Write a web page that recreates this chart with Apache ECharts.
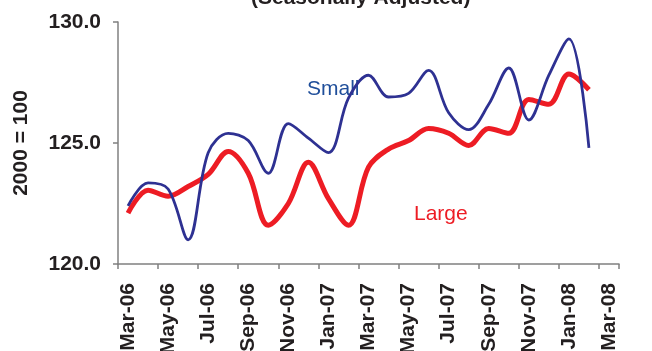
<!DOCTYPE html>
<html>
<head>
<meta charset="utf-8">
<script src="https://cdn.jsdelivr.net/npm/echarts@6/dist/echarts.min.js"></script>
<style>
html,body{margin:0;padding:0;background:#fff;}
#chart{width:652px;height:351px;}
</style>
</head>
<body>
<div id="chart"></div>
<script>
const categories = ['Mar-06','Apr-06','May-06','Jun-06','Jul-06','Aug-06','Sep-06','Oct-06','Nov-06','Dec-06','Jan-07','Feb-07',
  'Mar-07','Apr-07','May-07','Jun-07','Jul-07','Aug-07','Sep-07','Oct-07','Nov-07','Dec-07','Jan-08','Feb-08','Mar-08'];
const smallValues = [122.4,123.35,123.1,121.0,124.6,125.4,125.1,123.75,125.8,125.2,124.6,126.85,
  127.8,126.9,127.05,128.0,126.25,125.55,126.6,128.1,125.95,127.8,129.3,124.8];
const largeValues = [122.1,123.05,122.8,123.2,123.7,124.65,123.75,121.6,122.5,124.2,122.7,121.6,
  124.0,124.75,125.1,125.6,125.4,124.9,125.6,125.4,126.8,126.6,127.85,127.2];
const yTicks = [120, 125, 130];

const FONT = 'Liberation Sans, Arial, sans-serif';
const chart = echarts.init(document.getElementById('chart'), null, {renderer:'canvas'});
chart.setOption({
  animation: false,
  backgroundColor: '#ffffff',
  title: {
    text: '(Seasonally Adjusted)',
    left: 246, top: -17,
    textStyle: {fontFamily: FONT, fontSize: 21, fontWeight: 'bold', color: '#231f20'}
  },
  grid: {left: 118, right: 33, top: 22, bottom: 87, containLabel: false, outerBoundsMode: 'none'},
  xAxis: {
    type: 'category',
    data: categories,
    boundaryGap: true,
    axisLine: {lineStyle: {color: '#808080', width: 1.5}},
    axisTick: {show: true, interval: (i) => i % 2 === 0 && i < categories.length, length: 5, lineStyle: {color: '#808080', width: 1.5}},
    axisLabel: {
      interval: 1, rotate: 90, margin: 19,
      fontFamily: FONT, fontSize: 21, fontWeight: 'bold', color: '#231f20'
    },
    splitLine: {show: false}
  },
  yAxis: {
    type: 'value',
    min: yTicks[0], max: yTicks[yTicks.length-1], interval: 5,
    name: '2000 = 100',
    nameLocation: 'middle',
    nameRotate: 90,
    nameGap: 86,
    nameTextStyle: {fontFamily: FONT, fontSize: 21, fontWeight: 'bold', color: '#231f20'},
    axisLine: {show: true, lineStyle: {color: '#808080', width: 1.5}},
    axisTick: {show: true, length: 5, lineStyle: {color: '#808080', width: 1.5}},
    axisLabel: {
      margin: 17,
      formatter: v => v.toFixed(1),
      fontFamily: FONT, fontSize: 21, fontWeight: 'bold', color: '#231f20'
    },
    splitLine: {show: false}
  },
  series: [
    {
      name: 'Small', type: 'line', data: smallValues, smooth: 0.35,
      symbol: 'none', lineStyle: {color: '#2e3192', width: 2.8}, z: 3
    },
    {
      name: 'Large', type: 'line', data: largeValues, smooth: 0.35,
      symbol: 'none', lineStyle: {color: '#ed1c24', width: 5}, z: 2
    }
  ],
  graphic: [
    {type: 'text', left: 307, top: 79, style: {text: 'Small', font: '21px ' + FONT, fill: '#1f4e9a'}},
    {type: 'text', left: 414, top: 204, style: {text: 'Large', font: '21px ' + FONT, fill: '#ed1c24'}}
  ]
});
</script>
</body>
</html>
